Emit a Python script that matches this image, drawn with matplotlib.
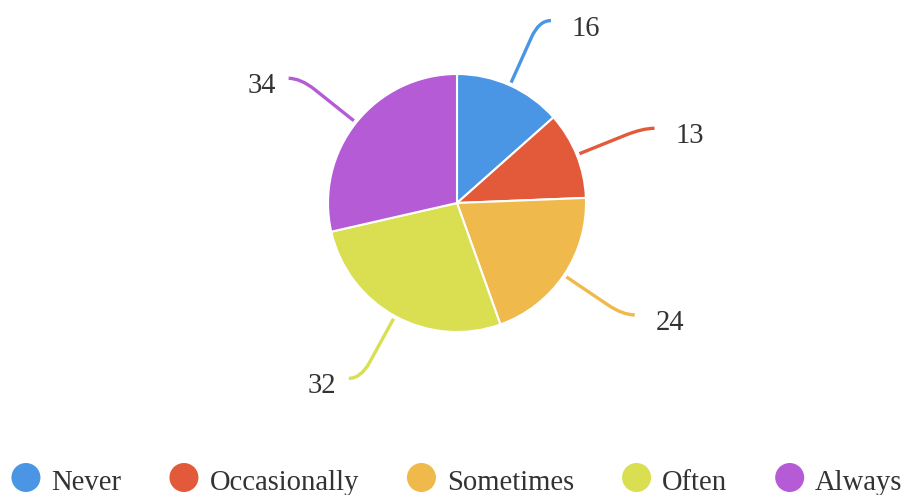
import numpy as np
import matplotlib.pyplot as plt
from matplotlib.path import Path
from matplotlib.patches import PathPatch, Circle

# --- data ---
categories = ['Never', 'Occasionally', 'Sometimes', 'Often', 'Always']
values = [16, 13, 24, 32, 34]
colors = ['#4a96e5', '#e35a3a', '#efb94c', '#d9df50', '#b55bd6']

W, H = 906, 495
plt.rcParams['font.family'] = ['Liberation Serif', 'DejaVu Serif']
TEXT = '#333333'
FS = 20.6

fig = plt.figure(figsize=(W / 100, H / 100), dpi=100)
ax = fig.add_axes([0, 0, 1, 1])

# pie geometry in pixel units (y up)
cx, cy, R = 457, H - 203, 129
ax.pie(values, colors=colors, startangle=90, counterclock=False,
       center=(cx, cy), radius=R,
       wedgeprops=dict(edgecolor='white', linewidth=1.5))
ax.set_xlim(0, W)
ax.set_ylim(0, H)
ax.set_aspect('auto')
ax.axis('off')

# --- leader lines & labels ---
total = sum(values)
cum = 0
for v, col in zip(values, colors):
    mid = cum + v / 2
    cum += v
    theta = np.deg2rad(90 - mid / total * 360)
    u = np.array([np.cos(theta), np.sin(theta)])
    c = np.array([cx, cy])
    sign = 1 if u[0] >= 0 else -1
    p0 = c + (R + 3) * u
    elbow = c + 200 * u
    a = c + 182 * u
    end = elbow + np.array([sign * 12, 0])
    path = Path([p0, a, elbow, end],
                [Path.MOVETO, Path.LINETO, Path.CURVE3, Path.CURVE3])
    ax.add_patch(PathPatch(path, fill=False, edgecolor=col, lw=2.4,
                           capstyle='butt'))
    if sign > 0:
        ax.text(end[0] + 21, end[1] - 15, str(v), ha='left', va='baseline',
                fontsize=FS, color=TEXT)
    else:
        ax.text(end[0] - 13, end[1] - 15, str(v), ha='right', va='baseline',
                fontsize=FS, color=TEXT)

# --- legend (manual, centred row) ---
fig.canvas.draw()
renderer = fig.canvas.get_renderer()
diam, gap_in, gap_out = 29, 11, 48
labels = []
widths = []
for name in categories:
    t = ax.text(0, 0, name, fontsize=FS, color=TEXT, ha='left', va='baseline')
    bb = t.get_window_extent(renderer)
    widths.append(bb.width)
    labels.append(t)
total_w = sum(diam + gap_in + w for w in widths) + gap_out * (len(widths) - 1)
x = (W - total_w) / 2 + 4
ly = H - 477.5
for t, w, col in zip(labels, widths, colors):
    ax.add_patch(Circle((x + diam / 2, ly), diam / 2, color=col, lw=0))
    t.set_position((x + diam + gap_in, H - 489.5))
    x += diam + gap_in + w + gap_out

fig.savefig('out.png', dpi=100)
